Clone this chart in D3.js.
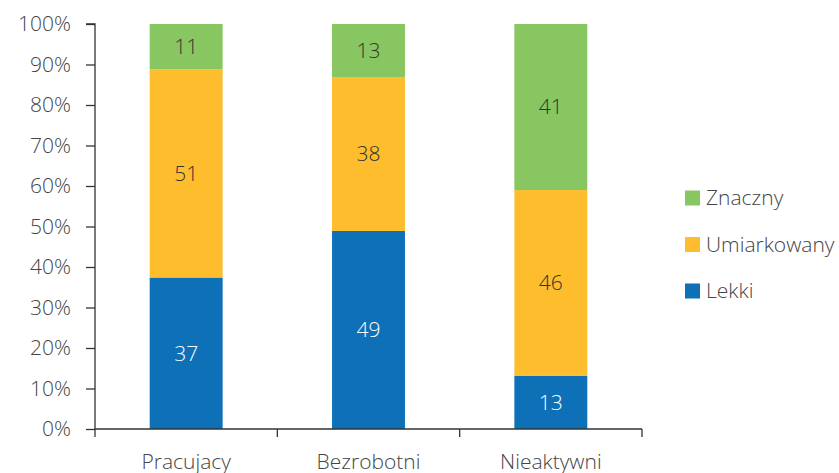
<!DOCTYPE html>
<html><head><meta charset="utf-8">
<script src="https://cdn.jsdelivr.net/npm/d3@7"></script>
<style>
html,body{margin:0;padding:0;background:#fff;}
svg text{font-family:"Open Sans","Noto Sans",sans-serif;}
</style></head>
<body>
<svg id="c" width="839" height="473"></svg>
<script>
const categories = ["Pracujacy", "Bezrobotni", "Nieaktywni"];
const seriesNames = ["Lekki", "Umiarkowany", "Znaczny"];
const lekki = [37.4, 48.9, 13.1];
const umiarkowany = [51.4, 38.0, 45.9];
const znaczny = [11.2, 13.1, 41.0];
const yTicks = [0, 10, 20, 30, 40, 50, 60, 70, 80, 90, 100];
const colors = ["#0e71b8", "#fdbd2c", "#87c661"];
const labelColors = ["#ffffff", "#333333", "#333333"];

const svg = d3.select("#c");
const x0 = 95, x1 = 642, yB = 429, yT = 24;
const x = d3.scaleBand().domain(categories).range([x0, x1]).padding(0);
const y = d3.scaleLinear().domain([0, 100]).range([yB, yT]);

const rows = categories.map((c, i) => ({cat: c, Lekki: lekki[i], Umiarkowany: umiarkowany[i], Znaczny: znaczny[i]}));
const stacked = d3.stack().keys(seriesNames)(rows);

const barW = x.bandwidth() * 0.4;
stacked.forEach((s, si) => {
  const g = svg.append("g");
  g.selectAll("rect").data(s).enter().append("rect")
    .attr("x", d => x(d.data.cat) + x.bandwidth()/2 - barW/2)
    .attr("width", barW)
    .attr("y", d => y(d[1]))
    .attr("height", d => y(d[0]) - y(d[1]))
    .attr("fill", colors[si]);
  g.selectAll("text").data(s).enter().append("text")
    .attr("x", d => x(d.data.cat) + x.bandwidth()/2)
    .attr("y", d => (y(d[0]) + y(d[1]))/2)
    .attr("dy", "0.35em")
    .attr("text-anchor", "middle")
    .attr("font-size", 21)
    .attr("font-weight", 300)
    .attr("fill", labelColors[si])
    .text(d => Math.round(d[1] - d[0]));
});

// Y axis
const yAxis = d3.axisLeft(y).tickValues(yTicks).tickFormat(d => d + "%").tickSize(9).tickPadding(24);
const gy = svg.append("g").attr("transform", `translate(${x0},0)`).call(yAxis);
gy.select(".domain").attr("stroke", "#333").attr("stroke-width", 1.3).attr("d", `M-9,${yT}H0V${yB}`);
gy.selectAll(".tick line").attr("stroke", "#333").attr("stroke-width", 1.3);
gy.selectAll(".tick text").attr("font-size", 21).attr("fill", "#444").attr("font-weight", 300)
  .attr("x", -24)
  .attr("font-family", '"Open Sans","Noto Sans",sans-serif');

// X axis
const xAxis = d3.axisBottom(x).tickSize(0).tickPadding(25);
const gx = svg.append("g").attr("transform", `translate(0,${yB})`).call(xAxis);
gx.select(".domain").attr("stroke", "#333").attr("stroke-width", 1.3).attr("d", `M${x0},0H${x1}`);
gx.selectAll(".tick text").attr("font-size", 21).attr("fill", "#444").attr("font-weight", 300)
  .attr("font-family", '"Open Sans","Noto Sans",sans-serif');
// boundary ticks between categories
const bounds = categories.map(c => x(c)).concat([x1]);
gx.selectAll("line.sep").data(bounds).enter().append("line").attr("class", "sep")
  .attr("x1", d => d).attr("x2", d => d).attr("y1", 0).attr("y2", 8)
  .attr("stroke", "#333").attr("stroke-width", 1.3);

// Legend
const legendOrder = ["Znaczny", "Umiarkowany", "Lekki"];
const lg = svg.append("g");
legendOrder.forEach((name, i) => {
  const ci = seriesNames.indexOf(name);
  const yy = 198 + i * 46.5;
  lg.append("rect").attr("x", 685).attr("y", yy - 7.5).attr("width", 15).attr("height", 15).attr("fill", colors[ci]);
  lg.append("text").attr("x", 706).attr("y", yy).attr("dy", "0.35em")
    .attr("font-size", 21).attr("font-weight", 300).attr("fill", "#444").text(name);
});
</script>
</body></html>
